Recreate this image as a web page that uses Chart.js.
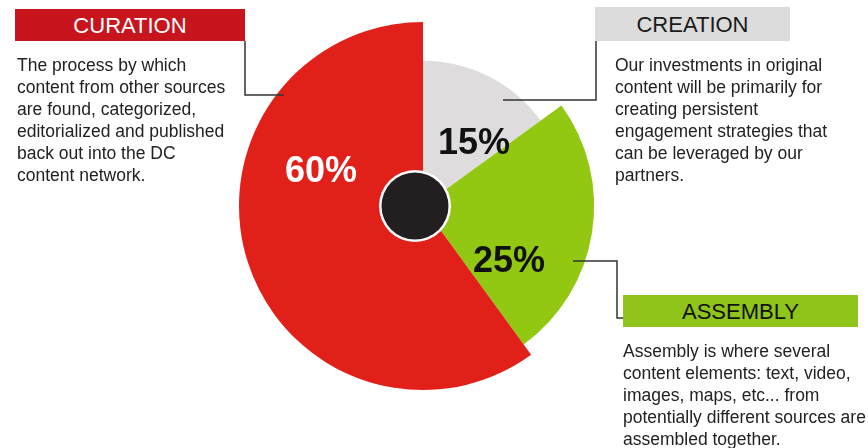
<!DOCTYPE html>
<html>
<head>
<meta charset="utf-8">
<script src="https://cdn.jsdelivr.net/npm/chart.js@4.4.1/dist/chart.umd.min.js"></script>
<style>
  html, body { margin: 0; padding: 0; background: #fff; }
  #wrap { position: relative; width: 868px; height: 448px; overflow: hidden; font-family: "Liberation Sans", Arial, sans-serif; }
  #pie { position: absolute; left: 0; top: 0; }
  .head { position: absolute; height: 32px; line-height: 33px; text-align: center; font-size: 22px; }
  .body { position: absolute; font-size: 17.5px; line-height: 22px; color: #222; white-space: nowrap; }
</style>
</head>
<body>
<div id="wrap">
  <canvas id="pie" width="868" height="448"></canvas>

  <div class="head" style="left:15px; top:9px; width:230px; background:#c8151d; color:#fff;">CURATION</div>
  <div class="body" style="left:17px; top:54px;">The process by which<br>content from other sources<br>are found, categorized,<br>editorialized and published<br>back out into the DC<br>content network.</div>

  <div class="head" style="left:595px; top:7px; width:195px; height:34px; line-height:35px; background:#dcdcdc; color:#1a1a1a;">CREATION</div>
  <div class="body" style="left:615px; top:54px;">Our investments in original<br>content will be primarily for<br>creating persistent<br>engagement strategies that<br>can be leveraged by our<br>partners.</div>

  <div class="head" style="left:623px; top:295px; width:235px; background:#8fc41a; color:#111;">ASSEMBLY</div>
  <div class="body" style="left:623px; top:340px;">Assembly is where several<br>content elements: text, video,<br>images, maps, etc... from<br>potentially different sources are<br>assembled together.</div>
</div>

<script>
"use strict";

// slices go clockwise from 12 o'clock
const categories = ["Creation", "Assembly", "Curation"];
const shares = [15, 25, 60];
const shareLabels = ["15%", "25%", "60%"];

const sliceColors = ["#dedcdc", "#92c812", "#e2201a"];
const labelColors = ["#111", "#111", "#fff"];
const radiusScale = [0.79, 0.93, 1];
const labelOffsets = [[51, -62], [86, 56], [-102, -34]];
const baseRadius = 184;

const decorations = {
  id: "decorations",
  beforeDatasetsDraw(chart) {
    const meta = chart.getDatasetMeta(0);
    meta.data.forEach((arc, i) => {
      arc.outerRadius = baseRadius * radiusScale[i];
    });
  },
  afterDatasetsDraw(chart) {
    const ctx = chart.ctx;
    const arc0 = chart.getDatasetMeta(0).data[0];
    const cx = arc0.x;
    const cy = arc0.y;

    // connector lines
    ctx.save();
    ctx.strokeStyle = "#333";
    ctx.lineWidth = 1.5;
    ctx.beginPath();
    ctx.moveTo(245, 41); ctx.lineTo(245, 95); ctx.lineTo(284, 95);
    ctx.moveTo(596, 41); ctx.lineTo(596, 100); ctx.lineTo(503, 100);
    ctx.moveTo(573, 261); ctx.lineTo(617, 261); ctx.lineTo(617, 318); ctx.lineTo(623, 318);
    ctx.stroke();

    // hub
    ctx.beginPath();
    ctx.arc(cx - 8, cy, 36, 0, Math.PI * 2);
    ctx.fillStyle = "#fff";
    ctx.fill();
    ctx.beginPath();
    ctx.arc(cx - 8, cy, 33.5, 0, Math.PI * 2);
    ctx.fillStyle = "#231f20";
    ctx.fill();

    // percent labels
    ctx.font = "bold 36px 'Liberation Sans', Arial, sans-serif";
    ctx.textAlign = "center";
    ctx.textBaseline = "middle";
    shareLabels.forEach((txt, i) => {
      ctx.fillStyle = labelColors[i];
      ctx.fillText(txt, cx + labelOffsets[i][0], cy + labelOffsets[i][1]);
    });
    ctx.restore();
  }
};

new Chart(document.getElementById("pie").getContext("2d"), {
  type: "pie",
  data: {
    labels: categories,
    datasets: [
      {
        data: shares,
        backgroundColor: sliceColors,
        borderWidth: 0,
      },
    ],
  },
  options: {
    responsive: false,
    animation: false,
    radius: baseRadius,
    layout: {
      padding: { left: 0, right: 22, top: 0, bottom: 36 },
    },
    plugins: {
      legend: { display: false },
      tooltip: { enabled: false },
    },
  },
  plugins: [decorations],
});
</script>
</body>
</html>
